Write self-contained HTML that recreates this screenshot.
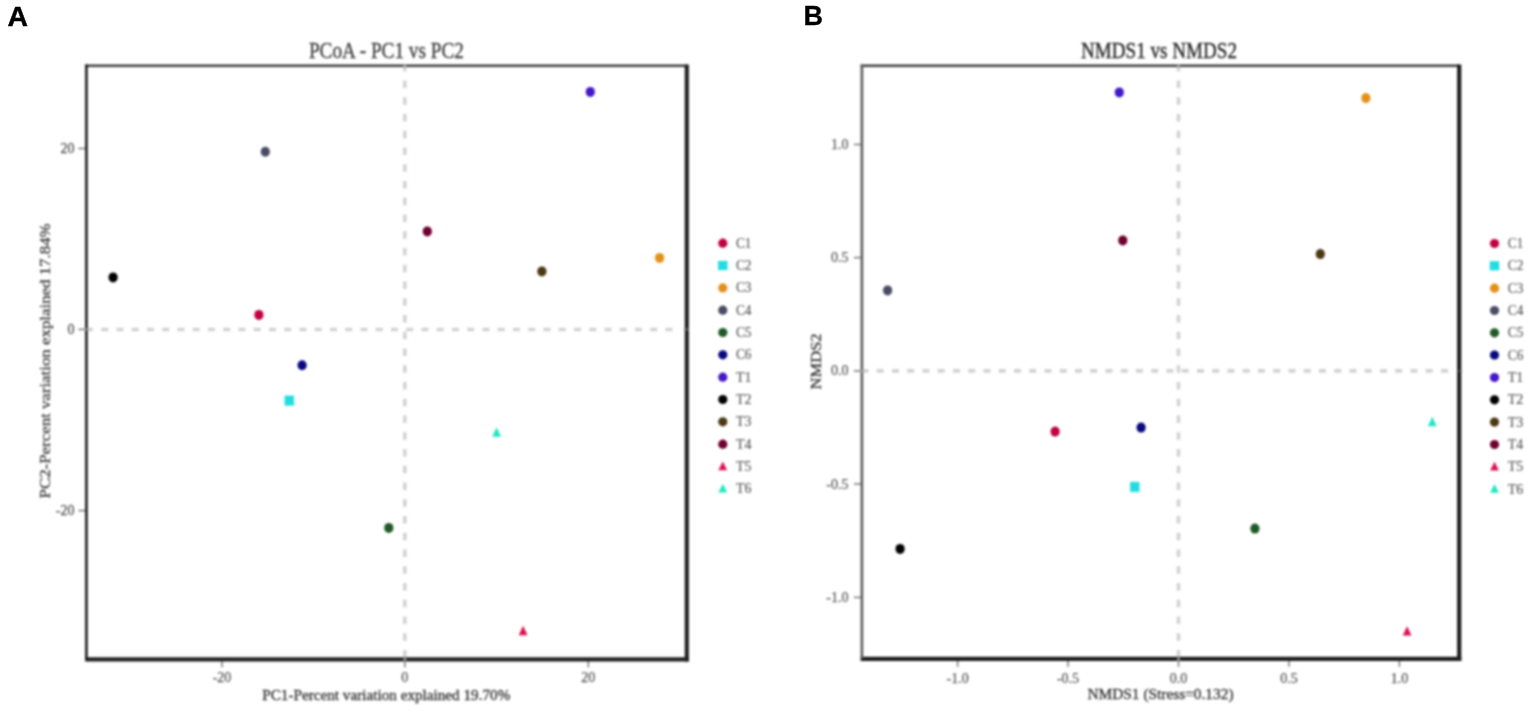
<!DOCTYPE html>
<html><head><meta charset="utf-8"><title>PCoA and NMDS</title>
<style>
html,body{margin:0;padding:0;background:#fff;width:1535px;height:715px;overflow:hidden}
svg{display:block}
text{font-family:"Liberation Serif", "Times New Roman", serif}
</style></head><body>
<svg width="1535" height="715" viewBox="0 0 1535 715">
<defs><filter id="db" x="-5%" y="-5%" width="110%" height="110%"><feGaussianBlur stdDeviation="0.7"/></filter></defs>
<rect width="1535" height="715" fill="#fff"/>
<g style="filter:blur(0.8px)">
<g filter="url(#db)"><line x1="404.8" y1="65.70" x2="404.8" y2="657.8" stroke="#d2d2d2" stroke-width="3.6" stroke-dasharray="7.5 9.25" stroke-dashoffset="2.00"/><line x1="85.95" y1="329.5" x2="673" y2="329.5" stroke="#d2d2d2" stroke-width="3.6" stroke-dasharray="7.0 8.25"/></g>
<g filter="url(#db)"><line x1="1178.5" y1="65.80" x2="1178.5" y2="657.3" stroke="#d2d2d2" stroke-width="3.6" stroke-dasharray="7.5 9.25" stroke-dashoffset="2.10"/><line x1="861.45" y1="370.9" x2="1449" y2="370.9" stroke="#d2d2d2" stroke-width="3.6" stroke-dasharray="7.0 8.25"/></g>
<line x1="78.4" y1="148.5" x2="86.4" y2="148.5" stroke="#808080" stroke-width="1.6"/>
<text x="74.5" y="148.5" font-size="14" text-anchor="end" fill="#555" font-weight="normal" dominant-baseline="central" stroke="#555" stroke-width="0.3">20</text>
<line x1="78.4" y1="329.4" x2="86.4" y2="329.4" stroke="#808080" stroke-width="1.6"/>
<text x="74.5" y="329.4" font-size="14" text-anchor="end" fill="#555" font-weight="normal" dominant-baseline="central" stroke="#555" stroke-width="0.3">0</text>
<line x1="78.4" y1="510.6" x2="86.4" y2="510.6" stroke="#808080" stroke-width="1.6"/>
<text x="74.5" y="510.6" font-size="14" text-anchor="end" fill="#555" font-weight="normal" dominant-baseline="central" stroke="#555" stroke-width="0.3">-20</text>
<line x1="222.0" y1="659.3" x2="222.0" y2="667.3" stroke="#808080" stroke-width="1.6"/>
<text x="222.0" y="677.5" font-size="14" text-anchor="middle" fill="#5a5a5a" font-weight="normal" dominant-baseline="central" stroke="#5a5a5a" stroke-width="0.25">-20</text>
<line x1="404.8" y1="659.3" x2="404.8" y2="667.3" stroke="#808080" stroke-width="1.6"/>
<text x="404.8" y="677.5" font-size="14" text-anchor="middle" fill="#5a5a5a" font-weight="normal" dominant-baseline="central" stroke="#5a5a5a" stroke-width="0.25">0</text>
<line x1="588.3" y1="659.3" x2="588.3" y2="667.3" stroke="#808080" stroke-width="1.6"/>
<text x="588.3" y="677.5" font-size="14" text-anchor="middle" fill="#5a5a5a" font-weight="normal" dominant-baseline="central" stroke="#5a5a5a" stroke-width="0.25">20</text>
<line x1="853.9" y1="144.5" x2="861.9" y2="144.5" stroke="#808080" stroke-width="1.6"/>
<text x="848.5" y="144.5" font-size="14" text-anchor="end" fill="#5a5a5a" font-weight="normal" dominant-baseline="central" stroke="#5a5a5a" stroke-width="0.25">1.0</text>
<line x1="853.9" y1="257.6" x2="861.9" y2="257.6" stroke="#808080" stroke-width="1.6"/>
<text x="848.5" y="257.6" font-size="14" text-anchor="end" fill="#5a5a5a" font-weight="normal" dominant-baseline="central" stroke="#5a5a5a" stroke-width="0.25">0.5</text>
<line x1="853.9" y1="370.9" x2="861.9" y2="370.9" stroke="#808080" stroke-width="1.6"/>
<text x="848.5" y="370.9" font-size="14" text-anchor="end" fill="#5a5a5a" font-weight="normal" dominant-baseline="central" stroke="#5a5a5a" stroke-width="0.25">0.0</text>
<line x1="853.9" y1="484.0" x2="861.9" y2="484.0" stroke="#808080" stroke-width="1.6"/>
<text x="848.5" y="484.0" font-size="14" text-anchor="end" fill="#5a5a5a" font-weight="normal" dominant-baseline="central" stroke="#5a5a5a" stroke-width="0.25">-0.5</text>
<line x1="853.9" y1="597.4" x2="861.9" y2="597.4" stroke="#808080" stroke-width="1.6"/>
<text x="848.5" y="597.4" font-size="14" text-anchor="end" fill="#5a5a5a" font-weight="normal" dominant-baseline="central" stroke="#5a5a5a" stroke-width="0.25">-1.0</text>
<line x1="957.6" y1="658.8" x2="957.6" y2="666.8" stroke="#808080" stroke-width="1.6"/>
<text x="957.6" y="678.0" font-size="14" text-anchor="middle" fill="#5a5a5a" font-weight="normal" dominant-baseline="central" stroke="#5a5a5a" stroke-width="0.25">-1.0</text>
<line x1="1068.0" y1="658.8" x2="1068.0" y2="666.8" stroke="#808080" stroke-width="1.6"/>
<text x="1068.0" y="678.0" font-size="14" text-anchor="middle" fill="#5a5a5a" font-weight="normal" dominant-baseline="central" stroke="#5a5a5a" stroke-width="0.25">-0.5</text>
<line x1="1178.5" y1="658.8" x2="1178.5" y2="666.8" stroke="#808080" stroke-width="1.6"/>
<text x="1178.5" y="678.0" font-size="14" text-anchor="middle" fill="#5a5a5a" font-weight="normal" dominant-baseline="central" stroke="#5a5a5a" stroke-width="0.25">0.0</text>
<line x1="1289.0" y1="658.8" x2="1289.0" y2="666.8" stroke="#808080" stroke-width="1.6"/>
<text x="1289.0" y="678.0" font-size="14" text-anchor="middle" fill="#5a5a5a" font-weight="normal" dominant-baseline="central" stroke="#5a5a5a" stroke-width="0.25">0.5</text>
<line x1="1399.4" y1="658.8" x2="1399.4" y2="666.8" stroke="#808080" stroke-width="1.6"/>
<text x="1399.4" y="678.0" font-size="14" text-anchor="middle" fill="#5a5a5a" font-weight="normal" dominant-baseline="central" stroke="#5a5a5a" stroke-width="0.25">1.0</text>
<line x1="85.10000000000001" y1="65.7" x2="686.8" y2="65.7" stroke="#404040" stroke-width="2.6"/><line x1="85.10000000000001" y1="659.3" x2="688.9" y2="659.3" stroke="#222" stroke-width="4.2"/><line x1="86.4" y1="64.4" x2="86.4" y2="659.3" stroke="#1a1a1a" stroke-width="2.6"/><line x1="686.8" y1="64.4" x2="686.8" y2="661.4" stroke="#222" stroke-width="4.2"/>
<line x1="860.6" y1="65.8" x2="1459.2" y2="65.8" stroke="#404040" stroke-width="2.6"/><line x1="860.6" y1="658.8" x2="1461.3" y2="658.8" stroke="#1c1c1c" stroke-width="4.2"/><line x1="861.9" y1="64.5" x2="861.9" y2="658.8" stroke="#5a5a5a" stroke-width="2.6"/><line x1="1459.2" y1="64.5" x2="1459.2" y2="660.9" stroke="#1c1c1c" stroke-width="4.2"/>
<line x1="404.8" y1="64.40" x2="404.8" y2="67.00" stroke="#a4a4a4" stroke-width="2.8"/>
<line x1="404.8" y1="657.20" x2="404.8" y2="661.40" stroke="#8a8a8a" stroke-width="2.8"/>
<line x1="85.10" y1="329.5" x2="87.70" y2="329.5" stroke="#8a8a8a" stroke-width="2.8"/>
<line x1="684.70" y1="329.5" x2="688.90" y2="329.5" stroke="#555555" stroke-width="2.8"/>
<line x1="1178.5" y1="64.50" x2="1178.5" y2="67.10" stroke="#a0a0a0" stroke-width="2.8"/>
<line x1="1178.5" y1="656.70" x2="1178.5" y2="660.90" stroke="#8a8a8a" stroke-width="2.8"/>
<line x1="860.60" y1="370.9" x2="863.20" y2="370.9" stroke="#a4a4a4" stroke-width="2.8"/>
<line x1="1457.10" y1="370.9" x2="1461.30" y2="370.9" stroke="#3c3c3c" stroke-width="2.8"/>
<text x="386.4" y="49.9" font-size="23.5" text-anchor="middle" fill="#404040" font-weight="normal" dominant-baseline="central" textLength="155" lengthAdjust="spacingAndGlyphs" stroke="#404040" stroke-width="0.35">PCoA - PC1 vs PC2</text>
<text x="1159.0" y="50.0" font-size="23.5" text-anchor="middle" fill="#2a2a2a" font-weight="normal" dominant-baseline="central" textLength="156" lengthAdjust="spacingAndGlyphs" stroke="#2a2a2a" stroke-width="0.4">NMDS1 vs NMDS2</text>
<text x="386.3" y="695.3" font-size="14" text-anchor="middle" fill="#3a3a3a" font-weight="normal" dominant-baseline="central" textLength="248" lengthAdjust="spacingAndGlyphs" stroke="#3a3a3a" stroke-width="0.35">PC1-Percent variation explained 19.70%</text>
<text transform="translate(45.6,360.9) rotate(-90)" x="0" y="0" font-size="14" text-anchor="middle" fill="#3a3a3a" font-weight="normal" dominant-baseline="central" textLength="275" lengthAdjust="spacingAndGlyphs" stroke="#3a3a3a" stroke-width="0.25">PC2-Percent variation explained 17.84%</text>
<text x="1160.5" y="694.2" font-size="14" text-anchor="middle" fill="#383838" font-weight="normal" dominant-baseline="central" textLength="146" lengthAdjust="spacingAndGlyphs" stroke="#383838" stroke-width="0.35">NMDS1 (Stress=0.132)</text>
<text transform="translate(816.8,361.4) rotate(-90)" x="0" y="0" font-size="14" text-anchor="middle" fill="#3a3a3a" font-weight="normal" dominant-baseline="central" textLength="56" lengthAdjust="spacingAndGlyphs" stroke="#3a3a3a" stroke-width="0.3">NMDS2</text>
<ellipse cx="590.3" cy="91.9" rx="4.6" ry="5.0" fill="#4418c8"/>
<ellipse cx="265.3" cy="151.7" rx="4.6" ry="5.0" fill="#4a4c64"/>
<ellipse cx="427.3" cy="231.4" rx="4.6" ry="5.0" fill="#700030"/>
<ellipse cx="113.1" cy="277.4" rx="4.6" ry="5.0" fill="#000000"/>
<ellipse cx="541.9" cy="271.4" rx="4.6" ry="5.0" fill="#4c3812"/>
<ellipse cx="659.6" cy="257.9" rx="4.6" ry="5.0" fill="#e49018"/>
<ellipse cx="258.9" cy="314.9" rx="4.6" ry="5.0" fill="#c20042"/>
<ellipse cx="302.1" cy="365.2" rx="4.6" ry="5.0" fill="#0a0a80"/>
<rect x="284.6" y="395.6" width="9.4" height="10.0" fill="#22dde0"/>
<polygon points="496.6,427.2 501.0,436.7 492.2,436.7" fill="#1ee8c0"/>
<ellipse cx="388.8" cy="527.9" rx="4.6" ry="5.0" fill="#1f5a26"/>
<polygon points="523.1,625.8 527.5,635.2 518.7,635.2" fill="#dd1050"/>
<ellipse cx="1119.3" cy="92.4" rx="4.6" ry="5.0" fill="#4418c8"/>
<ellipse cx="1365.9" cy="98.1" rx="4.6" ry="5.0" fill="#e49018"/>
<ellipse cx="1122.8" cy="240.4" rx="4.6" ry="5.0" fill="#700030"/>
<ellipse cx="1320.3" cy="254.1" rx="4.6" ry="5.0" fill="#4c3812"/>
<ellipse cx="887.6" cy="290.4" rx="4.6" ry="5.0" fill="#4a4c64"/>
<polygon points="1432.3,416.8 1436.7,426.2 1427.9,426.2" fill="#1ee8c0"/>
<ellipse cx="1055.1" cy="431.6" rx="4.6" ry="5.0" fill="#c20042"/>
<ellipse cx="1141.1" cy="427.6" rx="4.6" ry="5.0" fill="#0a0a80"/>
<rect x="1130.1" y="481.9" width="9.4" height="10.0" fill="#22dde0"/>
<ellipse cx="1254.9" cy="528.6" rx="4.6" ry="5.0" fill="#1f5a26"/>
<ellipse cx="900.1" cy="548.9" rx="4.6" ry="5.0" fill="#000000"/>
<polygon points="1407.1,626.2 1411.5,635.6 1402.7,635.6" fill="#dd1050"/>
<ellipse cx="722.8" cy="243.2" rx="4.6" ry="4.6" fill="#c20042"/>
<text x="736.0" y="242.7" font-size="14.5" text-anchor="start" fill="#5c5c5c" font-weight="normal" dominant-baseline="central" textLength="15.5" lengthAdjust="spacingAndGlyphs" stroke="#5c5c5c" stroke-width="0.2">C1</text>
<rect x="718.1" y="260.9" width="9.4" height="9.2" fill="#22dde0"/>
<text x="736.0" y="265.0" font-size="14.5" text-anchor="start" fill="#5c5c5c" font-weight="normal" dominant-baseline="central" textLength="15.5" lengthAdjust="spacingAndGlyphs" stroke="#5c5c5c" stroke-width="0.2">C2</text>
<ellipse cx="722.8" cy="287.9" rx="4.6" ry="4.6" fill="#e49018"/>
<text x="736.0" y="287.4" font-size="14.5" text-anchor="start" fill="#5c5c5c" font-weight="normal" dominant-baseline="central" textLength="15.5" lengthAdjust="spacingAndGlyphs" stroke="#5c5c5c" stroke-width="0.2">C3</text>
<ellipse cx="722.8" cy="310.2" rx="4.6" ry="4.6" fill="#4a4c64"/>
<text x="736.0" y="309.7" font-size="14.5" text-anchor="start" fill="#5c5c5c" font-weight="normal" dominant-baseline="central" textLength="15.5" lengthAdjust="spacingAndGlyphs" stroke="#5c5c5c" stroke-width="0.2">C4</text>
<ellipse cx="722.8" cy="332.5" rx="4.6" ry="4.6" fill="#1f5a26"/>
<text x="736.0" y="332.0" font-size="14.5" text-anchor="start" fill="#5c5c5c" font-weight="normal" dominant-baseline="central" textLength="15.5" lengthAdjust="spacingAndGlyphs" stroke="#5c5c5c" stroke-width="0.2">C5</text>
<ellipse cx="722.8" cy="354.8" rx="4.6" ry="4.6" fill="#0a0a80"/>
<text x="736.0" y="354.3" font-size="14.5" text-anchor="start" fill="#5c5c5c" font-weight="normal" dominant-baseline="central" textLength="15.5" lengthAdjust="spacingAndGlyphs" stroke="#5c5c5c" stroke-width="0.2">C6</text>
<ellipse cx="722.8" cy="377.2" rx="4.6" ry="4.6" fill="#4418c8"/>
<text x="736.0" y="376.7" font-size="14.5" text-anchor="start" fill="#5c5c5c" font-weight="normal" dominant-baseline="central" textLength="15.5" lengthAdjust="spacingAndGlyphs" stroke="#5c5c5c" stroke-width="0.2">T1</text>
<ellipse cx="722.8" cy="399.5" rx="4.6" ry="4.6" fill="#000000"/>
<text x="736.0" y="399.0" font-size="14.5" text-anchor="start" fill="#5c5c5c" font-weight="normal" dominant-baseline="central" textLength="15.5" lengthAdjust="spacingAndGlyphs" stroke="#5c5c5c" stroke-width="0.2">T2</text>
<ellipse cx="722.8" cy="421.8" rx="4.6" ry="4.6" fill="#4c3812"/>
<text x="736.0" y="421.3" font-size="14.5" text-anchor="start" fill="#5c5c5c" font-weight="normal" dominant-baseline="central" textLength="15.5" lengthAdjust="spacingAndGlyphs" stroke="#5c5c5c" stroke-width="0.2">T3</text>
<ellipse cx="722.8" cy="444.2" rx="4.6" ry="4.6" fill="#700030"/>
<text x="736.0" y="443.7" font-size="14.5" text-anchor="start" fill="#5c5c5c" font-weight="normal" dominant-baseline="central" textLength="15.5" lengthAdjust="spacingAndGlyphs" stroke="#5c5c5c" stroke-width="0.2">T4</text>
<polygon points="722.8,461.5 727.2,470.2 718.4,470.2" fill="#dd1050"/>
<text x="736.0" y="466.0" font-size="14.5" text-anchor="start" fill="#5c5c5c" font-weight="normal" dominant-baseline="central" textLength="15.5" lengthAdjust="spacingAndGlyphs" stroke="#5c5c5c" stroke-width="0.2">T5</text>
<polygon points="722.8,483.8 727.2,492.5 718.4,492.5" fill="#1ee8c0"/>
<text x="736.0" y="488.3" font-size="14.5" text-anchor="start" fill="#5c5c5c" font-weight="normal" dominant-baseline="central" textLength="15.5" lengthAdjust="spacingAndGlyphs" stroke="#5c5c5c" stroke-width="0.2">T6</text>
<ellipse cx="1494.5" cy="243.5" rx="4.6" ry="4.6" fill="#c20042"/>
<text x="1507.8" y="243.0" font-size="14.5" text-anchor="start" fill="#5c5c5c" font-weight="normal" dominant-baseline="central" textLength="15.5" lengthAdjust="spacingAndGlyphs" stroke="#5c5c5c" stroke-width="0.2">C1</text>
<rect x="1489.8" y="261.2" width="9.4" height="9.2" fill="#22dde0"/>
<text x="1507.8" y="265.3" font-size="14.5" text-anchor="start" fill="#5c5c5c" font-weight="normal" dominant-baseline="central" textLength="15.5" lengthAdjust="spacingAndGlyphs" stroke="#5c5c5c" stroke-width="0.2">C2</text>
<ellipse cx="1494.5" cy="288.2" rx="4.6" ry="4.6" fill="#e49018"/>
<text x="1507.8" y="287.7" font-size="14.5" text-anchor="start" fill="#5c5c5c" font-weight="normal" dominant-baseline="central" textLength="15.5" lengthAdjust="spacingAndGlyphs" stroke="#5c5c5c" stroke-width="0.2">C3</text>
<ellipse cx="1494.5" cy="310.5" rx="4.6" ry="4.6" fill="#4a4c64"/>
<text x="1507.8" y="310.0" font-size="14.5" text-anchor="start" fill="#5c5c5c" font-weight="normal" dominant-baseline="central" textLength="15.5" lengthAdjust="spacingAndGlyphs" stroke="#5c5c5c" stroke-width="0.2">C4</text>
<ellipse cx="1494.5" cy="332.8" rx="4.6" ry="4.6" fill="#1f5a26"/>
<text x="1507.8" y="332.3" font-size="14.5" text-anchor="start" fill="#5c5c5c" font-weight="normal" dominant-baseline="central" textLength="15.5" lengthAdjust="spacingAndGlyphs" stroke="#5c5c5c" stroke-width="0.2">C5</text>
<ellipse cx="1494.5" cy="355.1" rx="4.6" ry="4.6" fill="#0a0a80"/>
<text x="1507.8" y="354.6" font-size="14.5" text-anchor="start" fill="#5c5c5c" font-weight="normal" dominant-baseline="central" textLength="15.5" lengthAdjust="spacingAndGlyphs" stroke="#5c5c5c" stroke-width="0.2">C6</text>
<ellipse cx="1494.5" cy="377.5" rx="4.6" ry="4.6" fill="#4418c8"/>
<text x="1507.8" y="377.0" font-size="14.5" text-anchor="start" fill="#5c5c5c" font-weight="normal" dominant-baseline="central" textLength="15.5" lengthAdjust="spacingAndGlyphs" stroke="#5c5c5c" stroke-width="0.2">T1</text>
<ellipse cx="1494.5" cy="399.8" rx="4.6" ry="4.6" fill="#000000"/>
<text x="1507.8" y="399.3" font-size="14.5" text-anchor="start" fill="#5c5c5c" font-weight="normal" dominant-baseline="central" textLength="15.5" lengthAdjust="spacingAndGlyphs" stroke="#5c5c5c" stroke-width="0.2">T2</text>
<ellipse cx="1494.5" cy="422.1" rx="4.6" ry="4.6" fill="#4c3812"/>
<text x="1507.8" y="421.6" font-size="14.5" text-anchor="start" fill="#5c5c5c" font-weight="normal" dominant-baseline="central" textLength="15.5" lengthAdjust="spacingAndGlyphs" stroke="#5c5c5c" stroke-width="0.2">T3</text>
<ellipse cx="1494.5" cy="444.5" rx="4.6" ry="4.6" fill="#700030"/>
<text x="1507.8" y="444.0" font-size="14.5" text-anchor="start" fill="#5c5c5c" font-weight="normal" dominant-baseline="central" textLength="15.5" lengthAdjust="spacingAndGlyphs" stroke="#5c5c5c" stroke-width="0.2">T4</text>
<polygon points="1494.5,461.8 1498.9,470.5 1490.1,470.5" fill="#dd1050"/>
<text x="1507.8" y="466.3" font-size="14.5" text-anchor="start" fill="#5c5c5c" font-weight="normal" dominant-baseline="central" textLength="15.5" lengthAdjust="spacingAndGlyphs" stroke="#5c5c5c" stroke-width="0.2">T5</text>
<polygon points="1494.5,484.1 1498.9,492.8 1490.1,492.8" fill="#1ee8c0"/>
<text x="1507.8" y="488.6" font-size="14.5" text-anchor="start" fill="#5c5c5c" font-weight="normal" dominant-baseline="central" textLength="15.5" lengthAdjust="spacingAndGlyphs" stroke="#5c5c5c" stroke-width="0.2">T6</text>
</g>
<text transform="translate(7.5,25.6) scale(1.05,1)" style="font-family:Liberation Sans, Arial, sans-serif" font-weight="bold" font-size="27" fill="#000" stroke="#000" stroke-width="0.4">A</text><text x="803.6" y="25.3" style="font-family:Liberation Sans, Arial, sans-serif" font-weight="bold" font-size="27" fill="#000" stroke="#000" stroke-width="0.3">B</text>
</svg>
</body></html>
